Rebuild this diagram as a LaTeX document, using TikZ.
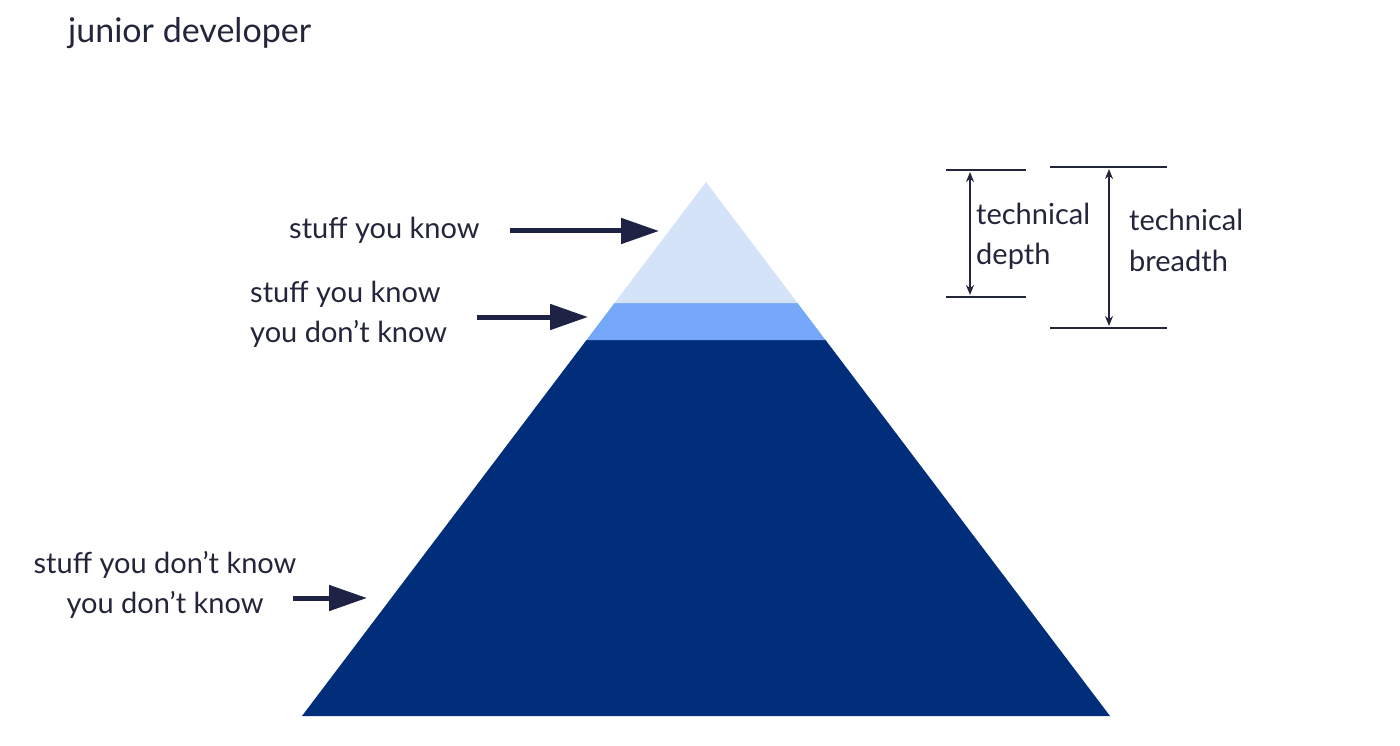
\documentclass[tikz,border=0pt]{standalone}
\usepackage{fontspec}
\setmainfont{Lato}
\usetikzlibrary{arrows.meta}

\definecolor{ink}{HTML}{23263A}
\definecolor{navyarrow}{HTML}{1E2244}
\definecolor{known}{HTML}{D5E3F9}
\definecolor{knownunknown}{HTML}{76A8FA}
\definecolor{unknown}{HTML}{002E7A}

\begin{document}
\begin{tikzpicture}[x=1pt,y=-1pt,
        lbl/.style={font=\fontsize{29}{40}\selectfont,text=ink,inner sep=0pt},
        bigarrow/.style={-{Triangle[length=38pt,width=25pt]},line width=5pt,draw=navyarrow},
        rule/.style={line width=2pt,draw=ink},
        span/.style={{Stealth[length=10pt,width=8pt]}-{Stealth[length=10pt,width=8pt]},line width=2pt,draw=ink}]

  \useasboundingbox (0,0) rectangle (1400,746);

  % pyramid layers
  \fill[unknown] (586.5,340) -- (825.5,340) -- (1110,716) -- (302,716) -- cycle;
  \fill[knownunknown] (614.5,303) -- (797.5,303) -- (825.5,340) -- (586.5,340) -- cycle;
  \fill[known] (706,182) -- (797.5,303) -- (614.5,303) -- cycle;

  % labels (base = last line)
  \node[lbl,font=\fontsize{34}{40}\selectfont,anchor=base west] (title) at (68,43) {junior developer};
  \node[lbl,anchor=base west] (know) at (289,238) {stuff you know};
  \node[lbl,anchor=base west,align=left] (knowdont) at (250,342) {stuff you know\\you don’t know};
  \node[lbl,anchor=base,align=center] (dontdont) at (165,613) {stuff you don’t know\\you don’t know};

  % arrows into the pyramid
  \coordinate (knowtail) at (510,231);
  \coordinate (knowtip) at (659,231);
  \coordinate (knowdonttail) at (477,317);
  \coordinate (knowdonttip) at (588,317);
  \coordinate (dontdonttail) at (293,598);
  \coordinate (dontdonttip) at (367,598);
  \draw[bigarrow] (knowtail) -- (knowtip);
  \draw[bigarrow] (knowdonttail) -- (knowdonttip);
  \draw[bigarrow] (dontdonttail) -- (dontdonttip);

  % depth and breadth marks
  \coordinate (dtopl) at (946,170);
  \coordinate (dtopr) at (1026,170);
  \coordinate (dbotl) at (946,297);
  \coordinate (dbotr) at (1026,297);
  \coordinate (btopl) at (1050,167);
  \coordinate (btopr) at (1167,167);
  \coordinate (bbotl) at (1050,328);
  \coordinate (bbotr) at (1167,328);
  \draw[rule] (dtopl) -- (dtopr);
  \draw[rule] (dbotl) -- (dbotr);
  \draw[rule] (btopl) -- (btopr);
  \draw[rule] (bbotl) -- (bbotr);
  \coordinate (dup) at (970,172);
  \coordinate (ddown) at (970,295);
  \coordinate (bup) at (1109,169);
  \coordinate (bdown) at (1109,326);
  \draw[span] (dup) -- (ddown);
  \draw[span] (bup) -- (bdown);

  \node[lbl,anchor=base west,align=left] (depth) at (976,265) {technical\\depth};
  \node[lbl,anchor=base west,align=left] (breadth) at (1129,271) {technical\\breadth};

\end{tikzpicture}
\end{document}
